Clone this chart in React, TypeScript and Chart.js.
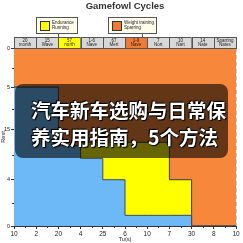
import React, { useEffect, useRef } from "react";
import { Chart, registerables } from "chart.js";

Chart.register(...registerables);

const xTickLabels = ["10", "2", "20", "4", "25", "6", "10", "7", "30", "8", "10"];
const yTickValues = [0, 26, 54, 78, 100];
const yTickLabels = ["0", "4", "15", "5", "0"];
const xPositions = [0, 1, 2, 3, 4, 5, 6, 7, 8, 9, 10];
// step tops per segment (last repeated for final point)
const blueTop = [78, 78, 45, 38, 26, 6, 6, 6, 0, 0, 0];
const yellowTop = [78, 78, 45, 47, 47, 47, 47, 26, 0, 0, 0];
const orangeTop = [100, 100, 100, 100, 100, 100, 100, 100, 100, 100, 100];

const headerTop = ["20", "15", "57", "1-6", "67", "1-9", "7", "10", "14", "Sparring"];
const headerBottom = ["month", "Wave", "north", "Nave", "Mert", "Nave", "Nort", "Nart", "Nate", "Nates"];
const headerColors = ["#D8D8D8", "#D8D8D8", "#FFFF00", "#D8D8D8", "#D8D8D8", "#F07A35", "#D8D8D8", "#D8D8D8", "#D8D8D8", "#D8D8D8"];

const legendItems = [
  { lines: ["Endurance", "Running"], color: "#FFFF00", x0: 36, x1: 77, anchor: 58 },
  { lines: ["Weight training", "Sparring"], color: "#F07A35", x0: 108, x1: 156, anchor: 142 },
];

const titleText = "Gamefowl Cycles";
const overlayLines = ["汽车新车选购与日常保", "养实用指南，5个方法"];

const BLUE = "#6DB9F7";
const YELLOW = "#FFFF00";
const ORANGE = "#F7883B";

const decorPlugin = {
  id: "decor",
  afterDraw(chart: any) {
    const ctx = chart.ctx;
    const xs = chart.scales.x;
    const ys = chart.scales.y;
    const area = chart.chartArea;
    ctx.save();
    // title
    ctx.fillStyle = "#333";
    ctx.font = "bold 9.5px 'Liberation Sans', Arial, sans-serif";
    ctx.textAlign = "center";
    ctx.textBaseline = "middle";
    ctx.fillText(titleText, (area.left + area.right) / 2, 6.5);

    // header cells
    const hTop = 37;
    const hBot = area.top;
    for (let i = 0; i < headerTop.length; i++) {
      const x0 = xs.getPixelForValue(i);
      const x1 = xs.getPixelForValue(i + 1);
      ctx.fillStyle = headerColors[i];
      ctx.fillRect(x0, hTop, x1 - x0, hBot - hTop);
      ctx.strokeStyle = "#555";
      ctx.lineWidth = 1;
      ctx.strokeRect(Math.round(x0) + 0.5, hTop + 0.5, Math.round(x1 - x0), hBot - hTop);
      ctx.fillStyle = "#222";
      ctx.font = "4.5px 'Liberation Sans', Arial, sans-serif";
      ctx.textAlign = "center";
      ctx.fillText(headerTop[i], (x0 + x1) / 2, hTop + 3.5);
      ctx.fillText(headerBottom[i], (x0 + x1) / 2, hTop + 8);
    }

    // legend boxes
    for (const it of legendItems) {
      const y0 = 17;
      const y1 = 33;
      ctx.strokeStyle = "#555";
      ctx.beginPath();
      ctx.moveTo(it.anchor + 0.5, y1);
      ctx.lineTo(it.anchor + 0.5, hTop);
      ctx.stroke();
      ctx.fillStyle = "#FFFDEB";
      ctx.fillRect(it.x0, y0, it.x1 - it.x0, y1 - y0);
      ctx.strokeRect(it.x0 + 0.5, y0 + 0.5, it.x1 - it.x0, y1 - y0);
      ctx.fillStyle = it.color;
      ctx.fillRect(it.x0 + 4, y0 + 4, 9, 9);
      ctx.strokeStyle = "#333";
      ctx.strokeRect(it.x0 + 4.5, y0 + 4.5, 9, 9);
      ctx.fillStyle = "#222";
      ctx.font = "4.5px 'Liberation Sans', Arial, sans-serif";
      ctx.textAlign = "left";
      ctx.fillText(it.lines[0], it.x0 + 16, y0 + 5.5);
      ctx.fillText(it.lines[1], it.x0 + 16, y0 + 10.5);
    }

    // minor ticks
    ctx.strokeStyle = "#333";
    ctx.lineWidth = 1;
    for (let i = 0; i < 10; i++) {
      const px = Math.round(xs.getPixelForValue(i + 0.5)) + 0.5;
      ctx.beginPath();
      ctx.moveTo(px, area.bottom);
      ctx.lineTo(px, area.bottom + 2);
      ctx.stroke();
    }
    for (let i = 0; i < yTickValues.length - 1; i++) {
      const v = (yTickValues[i] + yTickValues[i + 1]) / 2;
      const py = Math.round(ys.getPixelForValue(v)) + 0.5;
      ctx.beginPath();
      ctx.moveTo(area.left - 2, py);
      ctx.lineTo(area.left, py);
      ctx.stroke();
    }
    ctx.restore();
  },
};

export default function App() {
  const ref = useRef<HTMLCanvasElement>(null);
  useEffect(() => {
    document.body.style.margin = "0";
    const mk = (arr: number[]) => xPositions.map((x, i) => ({ x, y: arr[i] }));
    const chart = new Chart(ref.current as HTMLCanvasElement, {
      type: "line",
      data: {
        datasets: [
          {
            data: mk(blueTop),
            stepped: true,
            fill: "origin",
            backgroundColor: BLUE,
            borderColor: "#3a4a5a",
            borderWidth: 1,
            pointRadius: 0,
          },
          {
            data: mk(yellowTop),
            stepped: true,
            fill: "-1",
            backgroundColor: YELLOW,
            borderColor: "#3a3a2a",
            borderWidth: 1,
            pointRadius: 0,
          },
          {
            data: mk(orangeTop),
            stepped: true,
            fill: "-1",
            backgroundColor: ORANGE,
            borderWidth: 0,
            pointRadius: 0,
          },
        ],
      },
      options: {
        animation: false,
        responsive: true,
        maintainAspectRatio: false,
        layout: { padding: { top: 48, right: 7, left: 0, bottom: 0 } },
        plugins: { legend: { display: false }, tooltip: { enabled: false }, title: { display: false } },
        scales: {
          x: {
            type: "linear",
            min: 0,
            max: 10,
            z: 1,
            afterFit(scale: any) {
              scale.height = 17;
            },
            ticks: {
              stepSize: 1,
              padding: 1,
              color: "#222",
              font: { size: 6.5, family: "'Liberation Sans', Arial, sans-serif" },
              callback: (v: any) => xTickLabels[Math.round(Number(v))] ?? "",
              maxRotation: 0,
              autoSkip: false,
            },
            grid: { color: "rgba(0,0,0,0.22)", tickLength: 3, tickColor: "#333" },
            border: { display: true, color: "#333", width: 1, dash: [4, 3] },
            title: {
              display: true,
              text: "Tu(s)",
              padding: 0,
              color: "#222",
              font: { size: 5.5, family: "'Liberation Sans', Arial, sans-serif" },
            },
          },
          y: {
            type: "linear",
            min: 0,
            max: 100,
            z: 1,
            afterFit(scale: any) {
              scale.width = 14;
            },
            afterBuildTicks(scale: any) {
              scale.ticks = yTickValues.map((v) => ({ value: v }));
            },
            ticks: {
              padding: 1,
              color: "#222",
              font: { size: 5.5, family: "'Liberation Sans', Arial, sans-serif" },
              callback: (v: any) => {
                const i = yTickValues.indexOf(Number(v));
                return i >= 0 ? yTickLabels[i] : "";
              },
            },
            grid: { color: "rgba(0,0,0,0.22)", tickLength: 3, tickColor: "#333" },
            border: { display: true, color: "#333", width: 1, dash: [4, 3] },
            title: {
              display: true,
              text: "Rest",
              padding: 0,
              color: "#222",
              font: { size: 5.5, family: "'Liberation Sans', Arial, sans-serif" },
            },
          },
        },
      },
      plugins: [decorPlugin],
    } as any);
    return () => chart.destroy();
  }, []);

  return (
    <div style={{ position: "absolute", left: 0, top: 0, width: 243, height: 243, background: "#fff" }}>
      <canvas ref={ref} />
      <div
        style={{
          position: "absolute",
          left: 15,
          top: 84,
          width: 213,
          height: 74,
          borderRadius: 8,
          background: "rgba(0,0,0,0.6)",
          boxSizing: "border-box",
          paddingLeft: 16,
          paddingTop: 12,
          color: "#fff",
          fontFamily: "'Noto Sans CJK SC', sans-serif",
          fontWeight: 700,
          fontSize: 19.5,
          lineHeight: "27px",
          whiteSpace: "nowrap",
          textShadow: "0 0 2px #000, 1px 1px 1px #000, -1px -1px 1px #000",
        }}
      >
        {overlayLines.map((l, i) => (
          <div key={i}>{l}</div>
        ))}
      </div>
    </div>
  );
}
